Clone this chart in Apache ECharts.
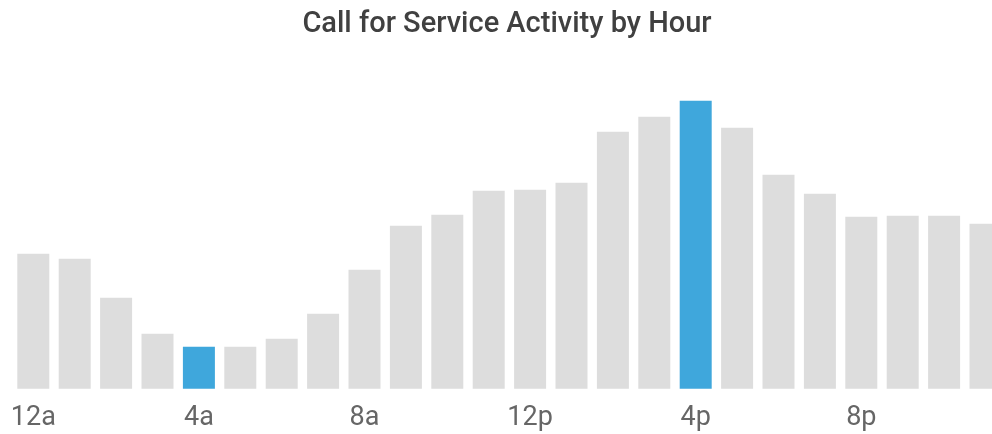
<!DOCTYPE html>
<html>
<head>
<meta charset="utf-8">
<script src="https://cdn.jsdelivr.net/npm/echarts@6/dist/echarts.min.js"></script>
<style>
html,body{margin:0;padding:0;background:#fff;overflow:hidden;width:992px;height:434px;}
#chart{width:1007px;height:434px;}
</style>
</head>
<body>
<div id="chart"></div>
<script>
const hours = ['12a','1a','2a','3a','4a','5a','6a','7a','8a','9a','10a','11a','12p','1p','2p','3p','4p','5p','6p','7p','8p','9p','10p','11p'];
const calls = [135, 130, 91, 55, 42, 42, 50, 75, 119, 163, 174, 198, 199, 206, 257, 272, 288, 261, 214, 195, 172, 173, 173, 165];
const highlightHours = ['4a', '4p'];

const chart = echarts.init(document.getElementById('chart'));
chart.setOption({
  animation: false,
  title: {
    text: 'Call for Service Activity by Hour',
    left: 502,
    textAlign: 'center',
    top: 5,
    textStyle: { fontFamily: 'Roboto', fontSize: 29, fontWeight: 500, color: '#404040' }
  },
  grid: { left: 12.6, width: 993.6, top: 88.7, bottom: 45.3, containLabel: false },
  xAxis: {
    type: 'category',
    data: hours,
    axisLine: { show: false },
    axisTick: { show: false },
    axisLabel: { interval: 3, fontFamily: 'Roboto', fontSize: 27, color: '#666', margin: 16 }
  },
  yAxis: {
    type: 'value', min: 0, max: 300,
    show: false, splitLine: { show: false }
  },
  series: [{
    type: 'bar',
    barWidth: 32,
    data: calls.map((v, i) => ({
      value: v,
      itemStyle: { color: highlightHours.includes(hours[i]) ? '#3fa7dc' : '#dddddd' }
    }))
  }]
});
</script>
</body>
</html>
